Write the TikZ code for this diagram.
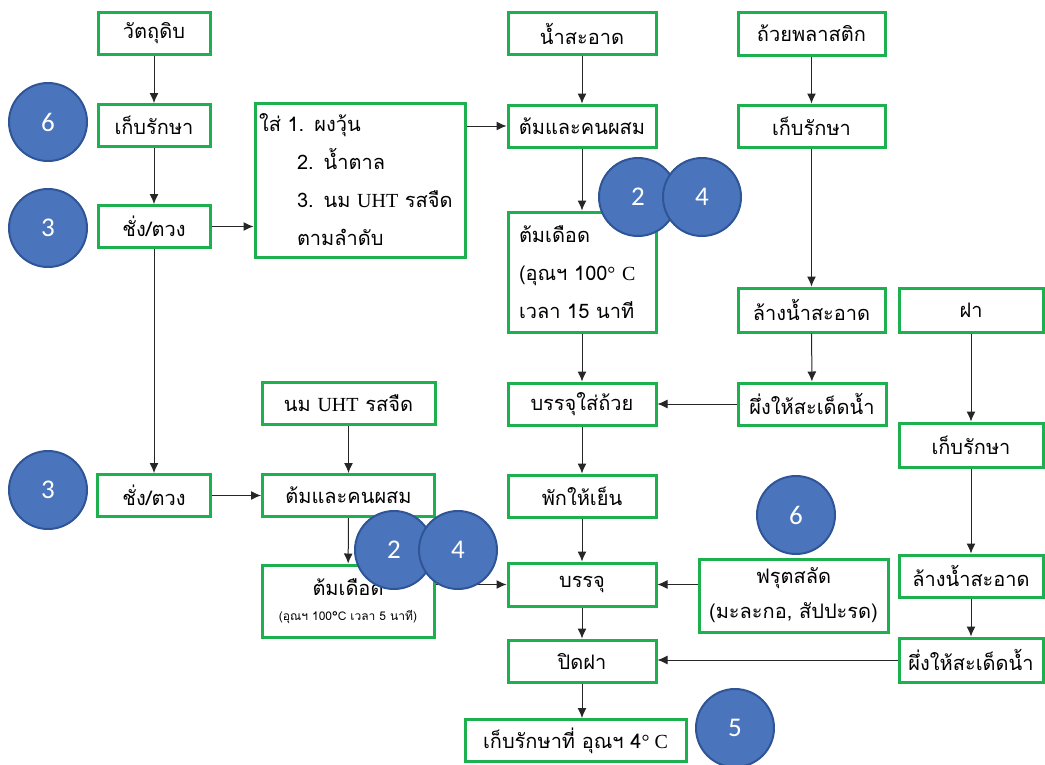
\documentclass[tikz,border=0pt]{standalone}
\usepackage{fontspec}
\setmainfont[Script=Thai]{Loma}
\newfontfamily\latf{Liberation Serif}
\newfontfamily\numf{Carlito}
\usetikzlibrary{arrows.meta}
\definecolor{bgreen}{HTML}{1DB04E}
\definecolor{cfill}{HTML}{4A75BD}
\definecolor{cline}{HTML}{2F5597}
\tikzset{
  box/.style={draw=bgreen, line width=3pt, inner sep=0pt, align=center,
    font=\fontsize{20}{22}\selectfont},
  circ/.style={circle, fill=cfill, draw=cline, line width=2pt, minimum size=78pt,
    inner sep=0pt, text=white, font=\numf\fontsize{27}{28}\selectfont},
  arr/.style={draw=black!85, line width=1pt, -{Latex[length=10pt,width=9pt]}}
}
\begin{document}
\begin{tikzpicture}[x=1pt,y=-1pt]
\useasboundingbox[fill=white] (0,0) rectangle (1045,764);
% left column
\node[box, minimum width=112pt, minimum height=42pt] (raw) at (154,33) {วัตถุดิบ};
\node[box, minimum width=112pt, minimum height=42pt] (keepL) at (154,125.5) {เก็บรักษา};
\node[box, minimum width=112pt, minimum height=42pt] (weighA) at (154,226.5) {ชั่ง/ตวง};
\node[box, minimum width=113pt, minimum height=42pt] (weighB) at (154,495.5) {ชั่ง/ตวง};
% add box
\node[box, minimum width=210pt, minimum height=154pt, text width=202pt, align=left,
  font=\fontsize{20}{38}\selectfont] (sai) at (360,180)
  {ใส่ 1. ผงวุ้น\\\hspace*{38pt}2. น้ำตาล\\\hspace*{38pt}3. นม {\latf UHT} รสจืด\\\hspace*{38pt}ตามลำดับ};
% middle-left column
\node[box, minimum width=173pt, minimum height=42pt] (uht) at (348.5,403.5) {นม {\latf UHT} รสจืด};
\node[box, minimum width=172pt, minimum height=42pt] (mixB) at (348.5,495.5) {ต้มและคนผสม};
\node[box, minimum width=172pt, minimum height=72pt, font=\fontsize{20}{28}\selectfont] (boilB) at (348,601)
  {ต้มเดือด\\[-3pt]{\fontsize{12}{14}\selectfont (อุณฯ 100°C เวลา 5 นาที)}};
% centre column
\node[box, minimum width=148pt, minimum height=42pt] (water) at (582,33.5) {น้ำสะอาด};
\node[box, minimum width=148pt, minimum height=42pt] (mixA) at (582,126) {ต้มและคนผสม};
\node[box, minimum width=148pt, minimum height=120pt, text width=126pt, align=left,
  font=\fontsize{20}{38}\selectfont] (boilA) at (582,272)
  {ต้มเดือด\\(อุณฯ 100{\latf° C}\\เวลา 15 นาที};
\node[box, minimum width=148pt, minimum height=42pt] (packcup) at (582,404) {บรรจุใส่ถ้วย};
\node[box, minimum width=148pt, minimum height=42pt] (cool) at (582,496) {พักให้เย็น};
\node[box, minimum width=148pt, minimum height=43pt] (pack) at (582,584.5) {บรรจุ};
\node[box, minimum width=148pt, minimum height=42pt] (lid) at (582,661) {ปิดฝา};
\node[box, minimum width=221pt, minimum height=42pt] (store) at (575.5,740.5) {เก็บรักษาที่ อุณฯ 4{\latf° C}};
% cup column
\node[box, minimum width=147pt, minimum height=43pt] (cup) at (811.5,33.5) {ถ้วยพลาสติก};
\node[box, minimum width=147pt, minimum height=42pt] (keepM) at (811.5,126) {เก็บรักษา};
\node[box, minimum width=147pt, minimum height=44pt] (washM) at (811.5,310) {ล้างน้ำสะอาด};
\node[box, minimum width=148pt, minimum height=42pt] (dryM) at (812,404) {ผึ่งให้สะเด็ดน้ำ};
\node[box, minimum width=189pt, minimum height=73pt, font=\fontsize{20}{35}\selectfont] (fruit) at (793.5,595.5)
  {ฟรุตสลัด\\(มะละกอ, สัปปะรด)};
% lid column
\node[box, minimum width=144pt, minimum height=44pt] (lidraw) at (971,310) {ฝา};
\node[box, minimum width=144pt, minimum height=44pt] (keepR) at (971,445) {เก็บรักษา};
\node[box, minimum width=144pt, minimum height=42pt] (washR) at (971,576) {ล้างน้ำสะอาด};
\node[box, minimum width=144pt, minimum height=44pt] (dryR) at (971,660) {ผึ่งให้สะเด็ดน้ำ};
% connectors
\draw[arr] (raw) -- (keepL);
\draw[arr] (keepL) -- (weighA);
\draw[arr] (weighA) -- (weighB);
\draw[arr] (weighA.east) -- (weighA.east -| sai.west);
\draw[arr] (sai.east |- mixA.west) -- (mixA.west);
\draw[arr] (water) -- (mixA);
\draw[arr] (mixA) -- (boilA);
\draw[arr] (boilA) -- (packcup);
\draw[arr] (cup) -- (keepM);
\draw[arr] (keepM) -- (washM);
\draw[arr] (washM) -- (dryM);
\draw[arr] (dryM) -- (packcup);
\draw[arr] (lidraw) -- (keepR);
\draw[arr] (keepR) -- (washR);
\draw[arr] (washR) -- (dryR);
\draw[arr] (dryR.west) -- (dryR.west -| lid.east);
\draw[arr] (uht) -- (mixB);
\draw[arr] (weighB) -- (mixB);
\draw[arr] (mixB) -- (boilB);
\draw[arr] (boilB.east |- pack.west) -- (pack.west);
\draw[arr] (packcup) -- (cool);
\draw[arr] (cool) -- (pack);
\draw[arr] (fruit.west |- pack.east) -- (pack.east);
\draw[arr] (pack) -- (lid);
\draw[arr] (lid.south) -- (lid.south |- store.north);
% circles
\node[circ] (c6a) at (48,122) {6};
\node[circ] (c3a) at (48,228) {3};
\node[circ] (c3b) at (48,490) {3};
\node[circ] (c2a) at (638,197) {2};
\node[circ] (c4a) at (702,197) {4};
\node[circ] (c2b) at (394,550) {2};
\node[circ] (c4b) at (458,550) {4};
\node[circ] (c6b) at (796,515) {6};
\node[circ] (c5) at (735,728) {5};
\end{tikzpicture}
\end{document}
